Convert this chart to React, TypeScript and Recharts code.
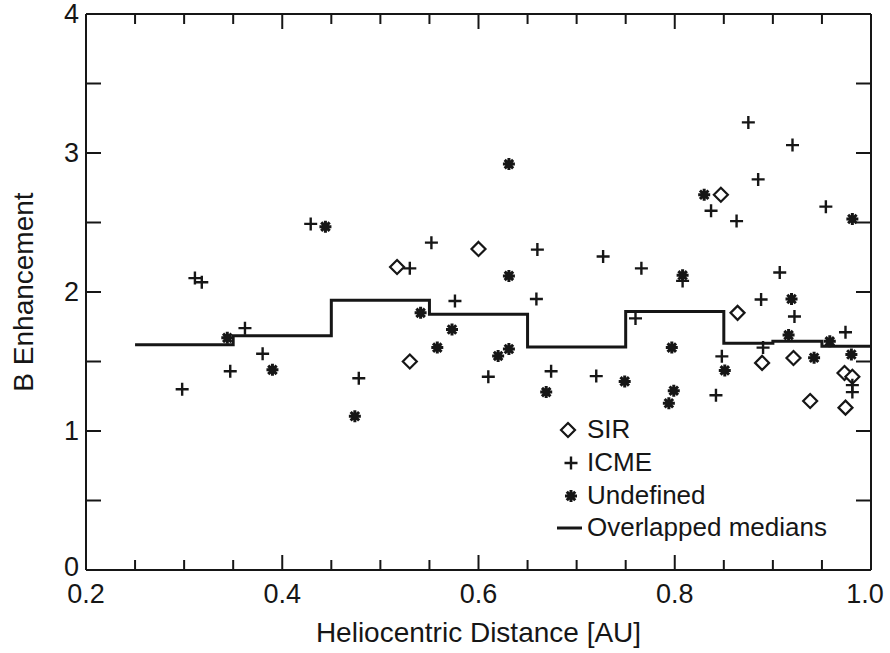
import React from "react";
import {
  ComposedChart,
  Scatter,
  Line,
  XAxis,
  YAxis,
  Label,
  Legend,
} from "recharts";

// B enhancement vs. heliocentric distance
const sirPoints = [
  { x: 0.517, y: 2.18 }, { x: 0.53, y: 1.5 }, { x: 0.6, y: 2.31 },
  { x: 0.847, y: 2.7 }, { x: 0.864, y: 1.85 }, { x: 0.889, y: 1.49 },
  { x: 0.921, y: 1.525 }, { x: 0.938, y: 1.216 }, { x: 0.973, y: 1.417 },
  { x: 0.981, y: 1.39 }, { x: 0.974, y: 1.168 },
];

const icmePoints = [
  { x: 0.298, y: 1.3 }, { x: 0.311, y: 2.1 }, { x: 0.318, y: 2.07 },
  { x: 0.347, y: 1.43 }, { x: 0.362, y: 1.74 }, { x: 0.38, y: 1.556 },
  { x: 0.429, y: 2.49 }, { x: 0.478, y: 1.38 }, { x: 0.53, y: 2.17 },
  { x: 0.552, y: 2.355 }, { x: 0.576, y: 1.935 }, { x: 0.61, y: 1.39 },
  { x: 0.659, y: 1.95 }, { x: 0.66, y: 2.305 }, { x: 0.674, y: 1.43 },
  { x: 0.72, y: 1.395 }, { x: 0.727, y: 2.255 }, { x: 0.76, y: 1.81 },
  { x: 0.766, y: 2.17 }, { x: 0.808, y: 2.08 }, { x: 0.837, y: 2.585 },
  { x: 0.842, y: 1.257 }, { x: 0.848, y: 1.537 }, { x: 0.863, y: 2.51 },
  { x: 0.875, y: 3.22 }, { x: 0.885, y: 2.81 }, { x: 0.888, y: 1.946 },
  { x: 0.89, y: 1.6 }, { x: 0.907, y: 2.14 }, { x: 0.92, y: 3.057 },
  { x: 0.922, y: 1.824 }, { x: 0.954, y: 2.614 }, { x: 0.974, y: 1.71 },
  { x: 0.981, y: 1.33 }, { x: 0.981, y: 1.28 },
];

const undefinedPoints = [
  { x: 0.344, y: 1.67 }, { x: 0.39, y: 1.44 }, { x: 0.444, y: 2.47 },
  { x: 0.474, y: 1.106 }, { x: 0.541, y: 1.85 }, { x: 0.558, y: 1.6 },
  { x: 0.573, y: 1.73 }, { x: 0.62, y: 1.54 }, { x: 0.631, y: 1.59 },
  { x: 0.631, y: 2.116 }, { x: 0.631, y: 2.92 }, { x: 0.669, y: 1.28 },
  { x: 0.749, y: 1.357 }, { x: 0.794, y: 1.2 }, { x: 0.797, y: 1.6 },
  { x: 0.799, y: 1.29 }, { x: 0.808, y: 2.12 }, { x: 0.83, y: 2.7 },
  { x: 0.851, y: 1.436 }, { x: 0.916, y: 1.69 }, { x: 0.919, y: 1.95 },
  { x: 0.942, y: 1.527 }, { x: 0.958, y: 1.645 }, { x: 0.98, y: 1.55 },
  { x: 0.981, y: 2.525 },
];

// overlapped medians (step starts)
const medianX = [0.25, 0.35, 0.45, 0.55, 0.65, 0.75, 0.85, 0.9, 0.95, 1.0];
const medianY = [1.62, 1.685, 1.94, 1.84, 1.604, 1.86, 1.632, 1.645, 1.61, 1.61];
const medianData = medianX.map((x, i) => ({ x, y: medianY[i] }));

const xTicks = [0.2, 0.25, 0.3, 0.35, 0.4, 0.45, 0.5, 0.55, 0.6, 0.65, 0.7, 0.75, 0.8, 0.85, 0.9, 0.95, 1.0];
const xLabelTicks = [0.2, 0.4, 0.6, 0.8, 1.0];
const yTicks = [0, 0.5, 1, 1.5, 2, 2.5, 3, 3.5, 4];
const yLabelTicks = [0, 1, 2, 3, 4];

const INK = "#161616";
const FONT = "'Liberation Sans', Arial, Helvetica, sans-serif";

const hasLabel = (list: number[], v: number) => list.some((t) => Math.abs(t - v) < 1e-6);

const Diamond = ({ cx, cy }: any) => (
  <path
    d={`M${cx},${cy - 7} L${cx + 7},${cy} L${cx},${cy + 7} L${cx - 7},${cy} Z`}
    fill="#fff"
    stroke={INK}
    strokeWidth={2.2}
  />
);

const Plus = ({ cx, cy }: any) => (
  <path
    d={`M${cx - 6.5},${cy} H${cx + 6.5} M${cx},${cy - 6.5} V${cy + 6.5}`}
    stroke={INK}
    strokeWidth={2.4}
    fill="none"
  />
);

const Star = ({ cx, cy }: any) => {
  const r = 6;
  const d = r * 0.7071;
  return (
    <path
      d={`M${cx - r},${cy} H${cx + r} M${cx},${cy - r} V${cy + r} M${cx - d},${cy - d} L${cx + d},${cy + d} M${cx - d},${cy + d} L${cx + d},${cy - d}`}
      stroke={INK}
      strokeWidth={3}
      fill="none"
    />
  );
};

const BottomTick = ({ x, y, payload }: any) => {
  const v = payload.value;
  const major = hasLabel(xLabelTicks, v);
  const last = Math.abs(v - 1.0) < 1e-6;
  return (
    <g>
      <line x1={x} x2={x} y1={y} y2={y - (major ? 15 : 10)} stroke={INK} strokeWidth={2} />
      {major && (
        <text x={last ? x - 6 : x} y={y + 33} textAnchor="middle" fontSize={27} fontFamily={FONT} fill={INK}>
          {v.toFixed(1)}
        </text>
      )}
    </g>
  );
};

const TopTick = ({ x, y, payload }: any) => {
  const major = hasLabel(xLabelTicks, payload.value);
  return <line x1={x} x2={x} y1={y} y2={y + (major ? 15 : 10)} stroke={INK} strokeWidth={2} />;
};

const LeftTick = ({ x, y, payload }: any) => {
  const v = payload.value;
  return (
    <g>
      <line x1={x} x2={x + 15} y1={y} y2={y} stroke={INK} strokeWidth={2} />
      {hasLabel(yLabelTicks, v) && (
        <text x={x - 7} y={y + (v === 0 ? 6 : 9)} textAnchor="end" fontSize={27} fontFamily={FONT} fill={INK}>
          {v}
        </text>
      )}
    </g>
  );
};

const RightTick = ({ x, y }: any) => (
  <line x1={x} x2={x - 15} y1={y} y2={y} stroke={INK} strokeWidth={2} />
);

const LegendBox = () => (
  <svg width={300} height={140} style={{ display: "block" }}>
    <Diamond cx={18} cy={20} />
    <text x={37} y={28} fontSize={26} fontFamily={FONT} fill={INK}>SIR</text>
    <Plus cx={21} cy={53} />
    <text x={37} y={61} fontSize={26} fontFamily={FONT} fill={INK}>ICME</text>
    <Star cx={21} cy={86} />
    <text x={37} y={94} fontSize={26} fontFamily={FONT} fill={INK}>Undefined</text>
    <line x1={7} x2={32} y1={118} y2={118} stroke={INK} strokeWidth={3} />
    <text x={37} y={126} fontSize={26} fontFamily={FONT} fill={INK}>Overlapped medians</text>
  </svg>
);

export default function App() {
  return (
    <div style={{ position: "absolute", left: 0, top: 0, width: 890, height: 653, background: "#fff" }}>
      <ComposedChart width={890} height={653} margin={{ top: 0, right: 0, bottom: 0, left: 0 }}>
        <XAxis
          dataKey="x"
          type="number"
          domain={[0.2, 1.0]}
          ticks={xTicks}
          interval={0}
          height={83}
          tickSize={0}
          tickMargin={0}
          tick={(p: any) => <BottomTick {...p} />}
          axisLine={{ stroke: INK, strokeWidth: 2 }}
          tickLine={false}
          allowDataOverflow
        >
          <Label
            content={({ viewBox }: any) => (
              <text
                x={viewBox.x + viewBox.width / 2}
                y={viewBox.y + 72}
                textAnchor="middle"
                fontSize={28}
                fontFamily={FONT}
                fill={INK}
              >
                Heliocentric Distance [AU]
              </text>
            )}
          />
        </XAxis>
        <XAxis
          xAxisId="top"
          orientation="top"
          dataKey="x"
          type="number"
          domain={[0.2, 1.0]}
          ticks={xTicks}
          interval={0}
          height={14}
          tickSize={0}
          tickMargin={0}
          tick={(p: any) => <TopTick {...p} />}
          axisLine={{ stroke: INK, strokeWidth: 2 }}
          tickLine={false}
          allowDataOverflow
        />
        <YAxis
          type="number"
          domain={[0, 4]}
          ticks={yTicks}
          interval={0}
          width={86}
          tickSize={0}
          tickMargin={0}
          tick={(p: any) => <LeftTick {...p} />}
          axisLine={{ stroke: INK, strokeWidth: 2 }}
          tickLine={false}
          allowDataOverflow
        >
          <Label
            content={({ viewBox }: any) => {
              const cx = viewBox.x + 33;
              const cy = viewBox.y + viewBox.height / 2;
              return (
                <text
                  x={cx}
                  y={cy}
                  transform={`rotate(-90 ${cx} ${cy})`}
                  textAnchor="middle"
                  fontSize={28}
                  fontFamily={FONT}
                  fill={INK}
                >
                  B Enhancement
                </text>
              );
            }}
          />
        </YAxis>
        <YAxis
          yAxisId="right"
          orientation="right"
          type="number"
          domain={[0, 4]}
          ticks={yTicks}
          interval={0}
          width={19}
          tickSize={0}
          tickMargin={0}
          tick={(p: any) => <RightTick {...p} />}
          axisLine={{ stroke: INK, strokeWidth: 2 }}
          tickLine={false}
          allowDataOverflow
        />
        <Legend
          layout="vertical"
          align="center"
          verticalAlign="middle"
          content={() => <LegendBox />}
          wrapperStyle={{ position: "absolute", left: 550, top: 410, width: 300, height: 140 }}
        />
        <Line
          data={medianData}
          dataKey="y"
          type="stepAfter"
          stroke={INK}
          strokeWidth={3}
          dot={false}
          activeDot={false}
          isAnimationActive={false}
          name="Overlapped medians"
        />
        <Scatter data={sirPoints} dataKey="y" shape={Diamond} isAnimationActive={false} name="SIR" />
        <Scatter data={icmePoints} dataKey="y" shape={Plus} isAnimationActive={false} name="ICME" />
        <Scatter data={undefinedPoints} dataKey="y" shape={Star} isAnimationActive={false} name="Undefined" />
      </ComposedChart>
    </div>
  );
}
